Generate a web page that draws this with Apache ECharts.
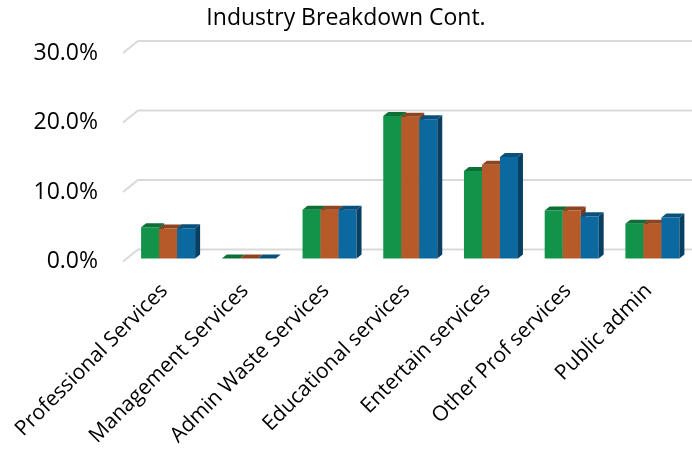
<!DOCTYPE html>
<html>
<head>
<meta charset="utf-8">
<script src="https://cdn.jsdelivr.net/npm/echarts@6/dist/echarts.min.js"></script>
<style>
  html, body { margin: 0; padding: 0; background: #fff; }
  #chart { width: 692px; height: 449px; }
</style>
</head>
<body>
<div id="chart"></div>
<script>
// Industry shares for three periods, one array per series
const categories = [
  'Professional Services', 'Management Services', 'Admin Waste Services',
  'Educational services', 'Entertain services', 'Other Prof services', 'Public admin'
];
const greenValues  = [0.0449, 0.0000, 0.0703, 0.2050, 0.1260, 0.0690, 0.0500];
const orangeValues = [0.0431, 0.0000, 0.0703, 0.2040, 0.1350, 0.0690, 0.0500];
const blueValues   = [0.0435, 0.0000, 0.0703, 0.2005, 0.1460, 0.0607, 0.0590];
const yTicks = [0, 0.1, 0.2, 0.3];

const FONT = 'Open Sans';

// 3D look: bars sit a little behind the front plane and have a short depth
const FRONT_DX = 3.75, FRONT_DY = -3;
const DEPTH_DX = 5, DEPTH_DY = -4;
const WALL_DX = 15, WALL_DY = -12;

const palettes = [
  { front: '#11934A', top: '#0C6F36', side: '#0B5F2E' },
  { front: '#B65A2A', top: '#8E4420', side: '#7A3A1B' },
  { front: '#0B69A0', top: '#09507C', side: '#083F63' }
];

function barRenderer(slot) {
  const pal = palettes[slot];
  return function (params, api) {
    const cat = api.value(0);
    const val = api.value(1);
    const base = api.coord([cat, 0]);
    const tip = api.coord([cat, val]);
    const band = api.size([1, 0])[0];
    const bw = band * 0.223;
    const x0 = base[0] - 1.5 * bw + slot * bw + FRONT_DX;
    const yb = base[1] + FRONT_DY;
    const yt = tip[1] + FRONT_DY;
    const x1 = x0 + bw;
    return {
      type: 'group',
      children: [
        {
          type: 'rect',
          shape: { x: x0, y: yt, width: bw, height: yb - yt },
          style: { fill: pal.front }
        },
        {
          type: 'polygon',
          shape: { points: [[x0, yt], [x1, yt], [x1 + DEPTH_DX, yt + DEPTH_DY], [x0 + DEPTH_DX, yt + DEPTH_DY]] },
          style: { fill: pal.top }
        },
        {
          type: 'polygon',
          shape: { points: [[x1, yt], [x1 + DEPTH_DX, yt + DEPTH_DY], [x1 + DEPTH_DX, yb + DEPTH_DY], [x1, yb]] },
          style: { fill: pal.side }
        }
      ]
    };
  };
}

function gridLineRenderer(params, api) {
  const cs = params.coordSys;
  const p = api.coord([0, api.value(1)]);
  const y = p[1];
  return {
    type: 'polyline',
    shape: { points: [[cs.x - 1, y], [cs.x - 1 + WALL_DX, y + WALL_DY], [692, y + WALL_DY]] },
    style: { stroke: '#D9D9D9', lineWidth: 2, fill: null }
  };
}

const toPairs = arr => arr.map((v, i) => [i, v]);

const chart = echarts.init(document.getElementById('chart'));
chart.setOption({
  animation: false,
  backgroundColor: '#fff',
  title: {
    text: 'Industry Breakdown Cont.',
    left: 'center',
    top: 2,
    textStyle: { fontFamily: FONT, fontSize: 23, fontWeight: 'normal', color: '#000' }
  },
  grid: { left: 124, right: 3, top: 53, bottom: 187 },
  xAxis: {
    type: 'category',
    data: categories,
    axisLine: { show: false },
    axisTick: { show: false },
    splitLine: { show: false },
    axisLabel: {
      rotate: 45,
      interval: 0,
      margin: 26,
      fontFamily: FONT,
      fontSize: 21,
      color: '#000'
    }
  },
  yAxis: {
    type: 'value',
    min: 0,
    max: 0.3,
    interval: 0.1,
    axisLine: { show: false },
    axisTick: { show: false },
    splitLine: { show: false },
    axisLabel: {
      margin: 26,
      padding: [6, 0, 0, 0],
      fontFamily: FONT,
      fontSize: 23,
      color: '#000',
      formatter: v => (v * 100).toFixed(1) + '%'
    }
  },
  series: [
    {
      type: 'custom',
      name: 'grid',
      renderItem: gridLineRenderer,
      data: yTicks.map(v => [0, v]),
      z: 1,
      silent: true
    },
    { type: 'custom', name: 'Series 1', renderItem: barRenderer(0), data: toPairs(greenValues), z: 2 },
    { type: 'custom', name: 'Series 2', renderItem: barRenderer(1), data: toPairs(orangeValues), z: 3 },
    { type: 'custom', name: 'Series 3', renderItem: barRenderer(2), data: toPairs(blueValues), z: 4 }
  ]
});
</script>
</body>
</html>
